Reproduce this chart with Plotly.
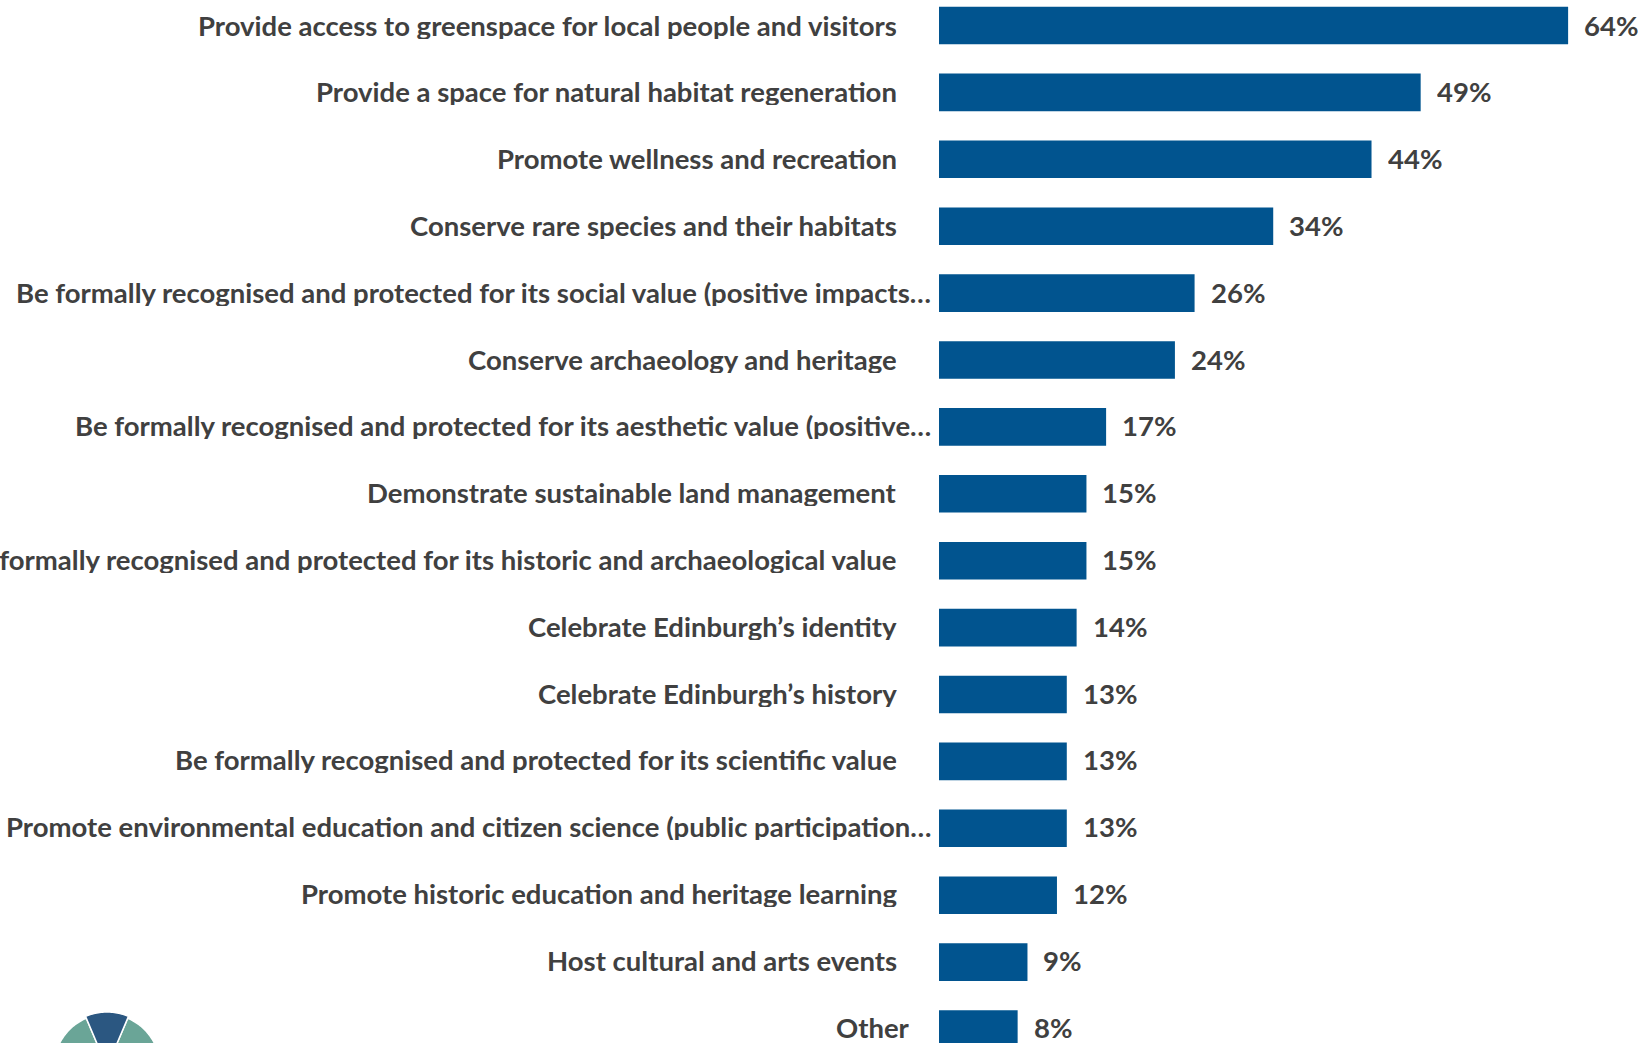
import math
import plotly.graph_objects as go

# Survey: what should the site be used for? (share of respondents)
categories = [
    "Provide access to greenspace for local people and visitors",
    "Provide a space for natural habitat regeneration",
    "Promote wellness and recreation",
    "Conserve rare species and their habitats",
    "Be formally recognised and protected for its social value (positive impacts…",
    "Conserve archaeology and heritage",
    "Be formally recognised and protected for its aesthetic value (positive…",
    "Demonstrate sustainable land management",
    "Be formally recognised and protected for its historic and archaeological value",
    "Celebrate Edinburgh’s identity",
    "Celebrate Edinburgh’s history",
    "Be formally recognised and protected for its scientific value",
    "Promote environmental education and citizen science (public participation…",
    "Promote historic education and heritage learning",
    "Host cultural and arts events",
    "Other",
]
values = [64, 49, 44, 34, 26, 24, 17, 15, 15, 14, 13, 13, 13, 12, 9, 8]
value_labels = ["64%", "49%", "44%", "34%", "26%", "24%", "17%", "15%", "15%",
                "14%", "13%", "13%", "13%", "12%", "9%", "8%"]

W, H = 1642, 1043
LEFT = 939            # where the bars start
PX_PER_PCT = 9.83
PITCH = 66.9          # vertical distance between bars
FIRST_CENTER = 25.5

BAR_COLOR = "#01548f"
TEXT_COLOR = "#404040"
FONT = "Lato"
FSIZE = 27.5

pos = list(range(len(categories)))
n = len(categories)

fig = go.Figure(go.Bar(
    x=values, y=pos, orientation="h",
    marker=dict(color=BAR_COLOR, line=dict(width=0)),
    width=0.562, hoverinfo="skip",
))

annotations = []
for i, (cat, v, lab) in enumerate(zip(categories, values, value_labels)):
    # truncated labels sit closer to the bars, "Other" sits in between
    if cat.endswith("…"):
        shift = -7
    elif cat == "Other":
        shift = -28
    else:
        shift = -41
    # text rows run on a marginally tighter pitch than the bars
    lift = 1 + 1.5 * i / (n - 1)
    common = dict(y=i, xref="x", yref="y", showarrow=False, yanchor="middle",
                  height=28, borderpad=0, valign="middle", yshift=lift,
                  font=dict(family=FONT, size=FSIZE, color=TEXT_COLOR, weight=700))
    annotations.append(dict(x=0, text=cat, xanchor="right", xshift=shift, **common))
    annotations.append(dict(x=v, text=lab, xanchor="left", xshift=15, **common))

# partial emblem peeking in at the bottom-left corner
plot_w = W - LEFT


def to_paper(px, py):
    return (px - LEFT) / plot_w, 1 - py / H


def wedge(cx, cy, r, a0, a1, steps=30):
    pts = [to_paper(cx, cy)]
    for k in range(steps + 1):
        a = math.radians(a0 + (a1 - a0) * k / steps)
        pts.append(to_paper(cx + r * math.cos(a), cy - r * math.sin(a)))
    return "M " + " L ".join(f"{x:.5f},{y:.5f}" for x, y in pts) + " Z"


cx, cy = 107, 1067
shapes = [
    dict(type="path", xref="paper", yref="paper", path=wedge(cx, cy, 53, 20, 67),
         fillcolor="#6aa597", line=dict(color="white", width=1.5), layer="above"),
    dict(type="path", xref="paper", yref="paper", path=wedge(cx, cy, 53, 113, 160),
         fillcolor="#6aa597", line=dict(color="white", width=1.5), layer="above"),
    dict(type="path", xref="paper", yref="paper", path=wedge(cx, cy, 55, 67, 113),
         fillcolor="#2b5781", line=dict(color="white", width=1.5), layer="above"),
]

fig.update_layout(
    width=W, height=H,
    margin=dict(l=LEFT, r=0, t=0, b=0),
    paper_bgcolor="white", plot_bgcolor="white",
    showlegend=False,
    xaxis=dict(range=[0, plot_w / PX_PER_PCT], visible=False, fixedrange=True),
    yaxis=dict(range=[(H - FIRST_CENTER) / PITCH, -FIRST_CENTER / PITCH],
               visible=False, fixedrange=True),
    annotations=annotations,
    shapes=shapes,
)

fig.write_html("out.html")
